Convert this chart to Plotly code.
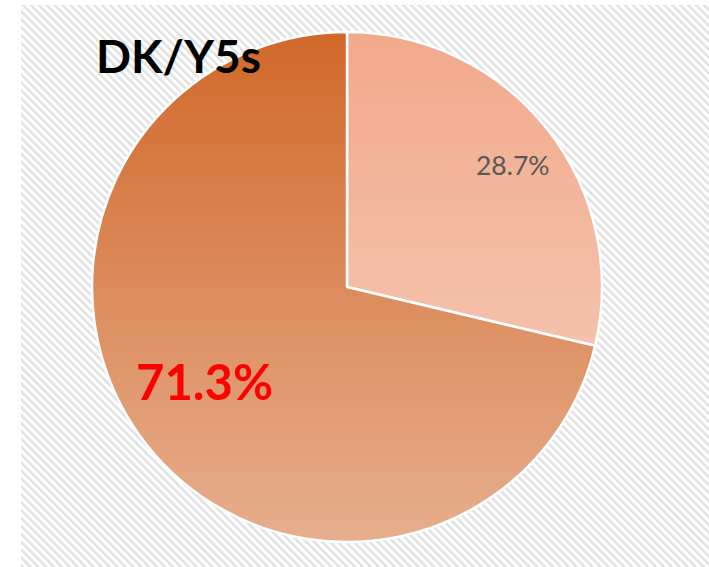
import base64, math
import plotly.graph_objects as go

# ---- data ----
labels = ["Other", "DK/Y5s"]
values = [28.7, 71.3]
label_texts = ["28.7%", "71.3%"]
title_text = "DK/Y5s"

W, H = 709, 567
slice_colors = ["#F1A98B", "#D1682A"]

# pie geometry (paper domain)
dom_x = [92 / W, 602 / W]
dom_y = [1 - 542 / H, 1 - 32 / H]

fig = go.Figure(go.Pie(
    labels=labels, values=values, sort=False, direction="clockwise", rotation=0,
    marker=dict(colors=slice_colors, line=dict(color="white", width=2.5)),
    textinfo="none", hoverinfo="skip", showlegend=False,
    domain=dict(x=dom_x, y=dom_y),
))

def svg_uri(svg):
    return "data:image/svg+xml;base64," + base64.b64encode(svg.encode()).decode()

# hatched background
hatch = ('<svg xmlns="http://www.w3.org/2000/svg" width="688" height="562">'
         '<defs><pattern id="p" width="5.6" height="5.6" patternUnits="userSpaceOnUse" '
         'patternTransform="rotate(-45)"><rect width="2.6" height="5.6" fill="#E2E2E2"/></pattern></defs>'
         '<rect width="100%" height="100%" fill="#FFFFFF"/>'
         '<rect width="100%" height="100%" fill="url(#p)"/></svg>')
# vertical light gradient over the pie disc
grad = ('<svg xmlns="http://www.w3.org/2000/svg" width="510" height="510" viewBox="0 0 100 100">'
        '<defs><linearGradient id="g" x1="0" y1="0" x2="0" y2="1">'
        '<stop offset="0" stop-color="#FFFFFF" stop-opacity="0"/>'
        '<stop offset="1" stop-color="#FFFFFF" stop-opacity="0.47"/></linearGradient></defs>'
        '<circle cx="50" cy="50" r="50" fill="url(#g)"/></svg>')

images = [
    dict(source=svg_uri(hatch), xref="paper", yref="paper", x=21 / W, y=1 - 5 / H,
         sizex=688 / W, sizey=562 / H, sizing="stretch", layer="below",
         xanchor="left", yanchor="top"),
    dict(source=svg_uri(grad), xref="paper", yref="paper", x=dom_x[0], y=dom_y[1],
         sizex=dom_x[1] - dom_x[0], sizey=dom_y[1] - dom_y[0], sizing="stretch",
         layer="above", xanchor="left", yanchor="top"),
]

# label positions from slice mid-angles
cx = (dom_x[0] + dom_x[1]) / 2 * W
cy = (1 - (dom_y[0] + dom_y[1]) / 2) * H
R = (dom_x[1] - dom_x[0]) * W / 2
radial = [0.806, 0.67]
angle_shift = [2.0, 5.0]
fonts = [dict(family="Lato", size=26.5, color="#595959"),
         dict(family="Lato", size=49, color="#FF0000", weight="bold")]
annotations = []
cum = 0
total = sum(values)
for v, t, rf, sh, f in zip(values, label_texts, radial, angle_shift, fonts):
    mid = (cum + v / 2) / total * 2 * math.pi + math.radians(sh)
    cum += v
    px = cx + R * rf * math.sin(mid)
    py = cy - R * rf * math.cos(mid)
    annotations.append(dict(text=t, x=px / W, y=1 - py / H, xref="paper", yref="paper",
                            showarrow=False, font=f, xanchor="center", yanchor="middle"))

annotations.append(dict(text=title_text, x=94 / W, y=1 - 26 / H, xref="paper", yref="paper",
                        showarrow=False, xanchor="left", yanchor="top",
                        font=dict(family="Lato", size=46, color="#000000", weight="bold")))

fig.update_layout(width=W, height=H, margin=dict(l=0, r=0, t=0, b=0),
                  paper_bgcolor="white", plot_bgcolor="rgba(0,0,0,0)",
                  images=images, annotations=annotations)
fig.write_html("out.html", config={"displayModeBar": False},
               post_script="document.body.style.margin='0';"
                           "document.body.style.overflow='hidden';"
                           "document.documentElement.style.overflow='hidden';")
